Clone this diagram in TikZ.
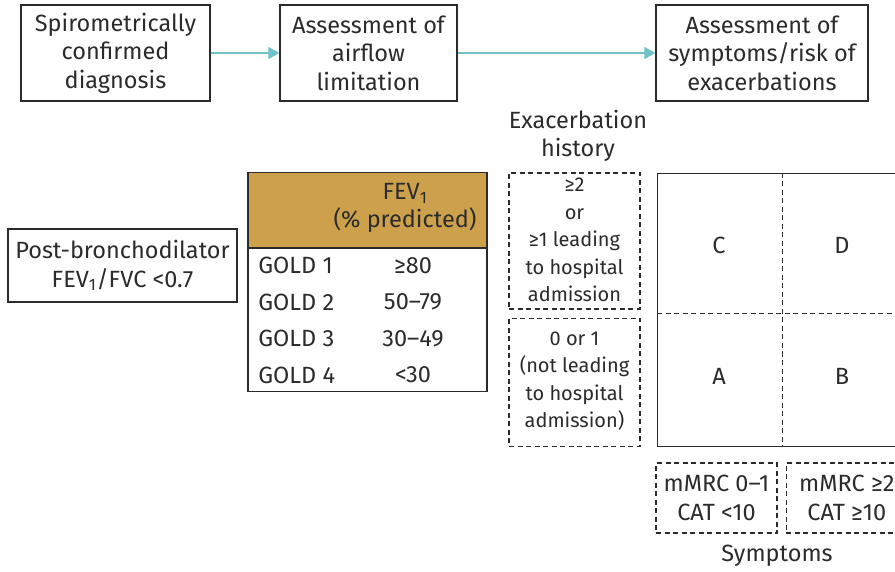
\documentclass[tikz,border=0pt]{standalone}
\usepackage{fontspec}
\setmainfont{Fira Sans}
\usetikzlibrary{arrows.meta, positioning}

\definecolor{flowteal}{HTML}{6FC2C8}
\definecolor{goldhead}{HTML}{CDA14C}
\definecolor{inkgray}{HTML}{2B2B2B}

\begin{document}
\begin{tikzpicture}[x=1pt, y=-1pt,
  every node/.style={font=\fontsize{23.5}{28.5}\selectfont, text=inkgray},
  small/.style={font=\fontsize{20}{27.5}\selectfont},
  stagebox/.style={draw=inkgray, line width=1.3pt, align=center, inner sep=0pt},
  dashbox/.style={draw=inkgray, line width=1.3pt, dash pattern=on 5pt off 3.5pt, align=center, inner sep=0pt},
  flow/.style={flowteal, line width=1.5pt, -{Triangle[length=11pt, width=12pt]}},
  thick]

  \useasboundingbox (0,0) rectangle (895,572);

  % top row
  \node[stagebox, minimum width=189, minimum height=96] (diag) at (115.5,53) {Spirometrically\\confirmed\\diagnosis};
  \node[stagebox, minimum width=177, minimum height=96] (airflow) at (368.5,53) {Assessment of\\airflow\\limitation};
  \node[stagebox, minimum width=212, minimum height=96] (risk) at (762,53) {Assessment of\\symptoms/risk of\\exacerbations};
  \draw[flow] (diag) -- (airflow);
  \draw[flow] (airflow) -- (risk);

  % spirometry
  \node[stagebox, minimum width=229, minimum height=73] (post) at (122.5,265.5) {Post-bronchodilator\\FEV\textsubscript{1}/FVC <0.7};

  % GOLD table
  \node[stagebox, fill=goldhead, minimum width=239, minimum height=75] (fevhead) at (367.5,210) {};
  \node[align=center, inner sep=0pt] (fevlbl) at (405,208) {FEV\textsubscript{1}\\(\% predicted)};
  \node[stagebox, minimum width=239, minimum height=143, anchor=north] (fevbody) at (fevhead.south) {};
  \foreach \g/\v [count=\i] in {1/≥80, 2/50–79, 3/30–49, 4/<30} {
    \node[anchor=west, inner sep=0pt] (gold\i) at (258,229+36.5*\i) {GOLD \g};
    \node[inner sep=0pt] (val\i) at (413,229+36.5*\i) {\v};
  }

  % exacerbation history
  \node[align=center] (exhist) at (578,136) {Exacerbation\\history};
  \node[dashbox, minimum width=131, minimum height=136] (high) at (574.5,241) {};
  \node[small, align=center, inner sep=0pt] (hightxt) at ([yshift=1pt]high.center) {≥2\\or\\≥1 leading\\to hospital\\admission};
  \node[dashbox, minimum width=131, minimum height=128, below=8pt of high] (low) {};
  \node[small, align=center, inner sep=0pt] (lowtxt) at ([yshift=1pt]low.center) {0 or 1\\(not leading\\to hospital\\admission)};

  % ABCD grid
  \node[stagebox, minimum width=250, minimum height=273, anchor=north west] (grid) at (657,173) {};
  \coordinate (midL) at ([yshift=-3.5pt]grid.west);
  \coordinate (midR) at ([yshift=-3.5pt]grid.east);
  \draw[dashbox] (grid.north) -- (grid.south);
  \draw[dashbox] (midL) -- (midR);
  \node (C) at (719,245) {C};
  \node (D) at (842,245) {D};
  \node (A) at (719,376) {A};
  \node (B) at (842,376) {B};

  % symptoms
  \node[dashbox, minimum width=121, minimum height=70] (mild) at (716.5,498) {mMRC 0–1\\CAT <10};
  \node[dashbox, minimum width=121, minimum height=70, right=8pt of mild] (severe) {mMRC ≥2\\CAT ≥10};
  \node (symp) at (777,556) {Symptoms};
\end{tikzpicture}
\end{document}
